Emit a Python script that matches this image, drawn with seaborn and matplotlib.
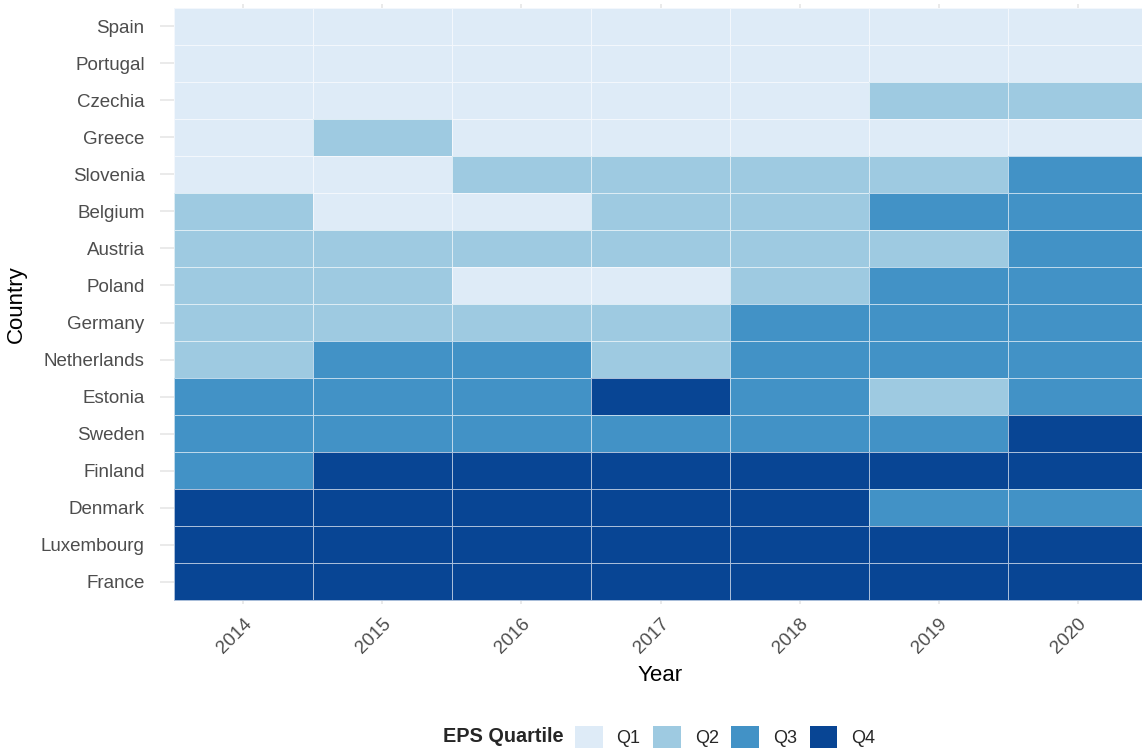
import matplotlib.pyplot as plt
import pandas as pd
import seaborn as sns
from matplotlib.colors import ListedColormap
from matplotlib.patches import Patch

sns.set_theme(style="white")
plt.rcParams['font.family'] = ['Liberation Sans', 'DejaVu Sans']

years = ["2014", "2015", "2016", "2017", "2018", "2019", "2020"]
countries = ["Spain", "Portugal", "Czechia", "Greece", "Slovenia", "Belgium",
             "Austria", "Poland", "Germany", "Netherlands", "Estonia", "Sweden",
             "Finland", "Denmark", "Luxembourg", "France"]
quartiles = ["Q1", "Q2", "Q3", "Q4"]
colors = ["#deebf7", "#9ecae1", "#4292c6", "#084594"]

# quartile per country, years 2014..2020
spain = [1, 1, 1, 1, 1, 1, 1]
portugal = [1, 1, 1, 1, 1, 1, 1]
czechia = [1, 1, 1, 1, 1, 2, 2]
greece = [1, 2, 1, 1, 1, 1, 1]
slovenia = [1, 1, 2, 2, 2, 2, 3]
belgium = [2, 1, 1, 2, 2, 3, 3]
austria = [2, 2, 2, 2, 2, 2, 3]
poland = [2, 2, 1, 1, 2, 3, 3]
germany = [2, 2, 2, 2, 3, 3, 3]
netherlands = [2, 3, 3, 2, 3, 3, 3]
estonia = [3, 3, 3, 4, 3, 2, 3]
sweden = [3, 3, 3, 3, 3, 3, 4]
finland = [3, 4, 4, 4, 4, 4, 4]
denmark = [4, 4, 4, 4, 4, 3, 3]
luxembourg = [4, 4, 4, 4, 4, 4, 4]
france = [4, 4, 4, 4, 4, 4, 4]

rows = [spain, portugal, czechia, greece, slovenia, belgium, austria, poland,
        germany, netherlands, estonia, sweden, finland, denmark, luxembourg, france]
df = pd.DataFrame(rows, index=countries, columns=years)

W, H = 1142, 749
fig = plt.figure(figsize=(W / 100, H / 100), dpi=100)
# panel in pixels: left 160, top 4, width 1001, height 600
ax = fig.add_axes([160 / W, 1 - 604 / H, 1001 / W, 600 / H])

sns.heatmap(df, cmap=ListedColormap(colors), vmin=0.5, vmax=4.5, cbar=False,
            linewidths=0.6, linecolor=(1, 1, 1, 0.65), ax=ax)

ax.set_xlim(-0.1, 7.1)
ax.set_ylim(16.1, -0.1)
ax.set_axisbelow(True)
ax.grid(True, color="#e6e6e6", linewidth=1.2, zorder=0)
for s in ax.spines.values():
    s.set_visible(False)

ax.tick_params(axis="both", length=0, labelsize=13.5, labelcolor="#4d4d4d")
ax.tick_params(axis="y", pad=11)
ax.tick_params(axis="x", pad=8)
ax.set_yticklabels(countries, rotation=0, va="center_baseline")
for lab in ax.get_xticklabels():
    lab.set_rotation(45)
    lab.set_ha("right")
    lab.set_va("top")
    lab.set_rotation_mode("anchor")

ax.set_xlabel("Year", fontsize=16, color="black", labelpad=6)
ax.set_ylabel("Country", fontsize=16, color="black", labelpad=10)

fig.text(443 / W, 1 - 737 / H, "EPS Quartile", fontsize=14.3, fontweight="bold",
         ha="left", va="center")
handles = [Patch(facecolor=c, edgecolor="none", label=q) for c, q in zip(colors, quartiles)]
fig.legend(handles=handles, loc="center left", bbox_to_anchor=(575 / W, 1 - 737 / H),
           ncol=4, frameon=False, fontsize=13, borderpad=0, borderaxespad=0,
           handlelength=1.55, handleheight=1.55, handletextpad=0.75,
           columnspacing=0.7)

fig.savefig("out.png", dpi=100)
